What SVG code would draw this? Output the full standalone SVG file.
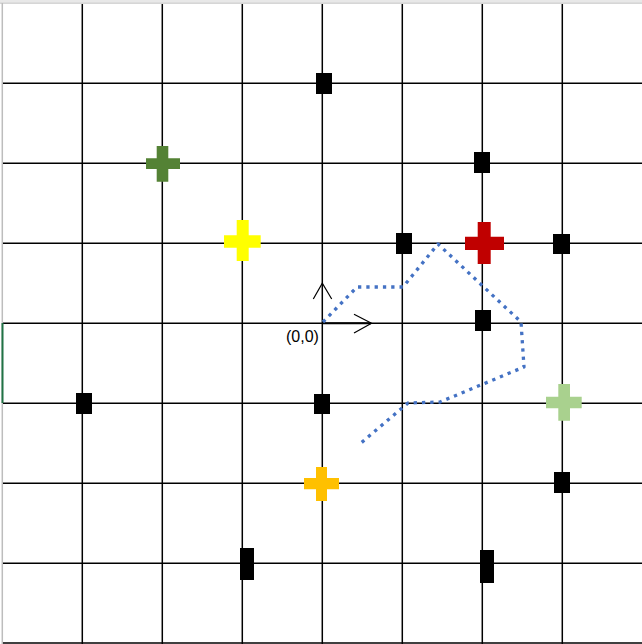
<svg xmlns="http://www.w3.org/2000/svg" width="642" height="644" viewBox="0 0 642 644">
<style>
.g{stroke:#000;stroke-width:1.5;fill:none}
.sq{fill:#000}
.ax{stroke:#000;stroke-width:1.2;fill:none}
.path{stroke:#4472C4;stroke-width:3.3;fill:none;stroke-dasharray:3.3 5;stroke-linejoin:round}
</style>
<rect width="642" height="644" fill="#fff"/>
<rect x="0" y="0" width="642" height="3" fill="#e8e8e8"/>
<line x1="0" y1="3.2" x2="642" y2="3.2" stroke="#c4c4c4" stroke-width="1"/>
<line x1="2.3" y1="3" x2="2.3" y2="644" stroke="#bdbdbd" stroke-width="1.5"/>
<g id="grid">
<line class="g" x1="82.3" y1="4" x2="82.3" y2="644"/>
<line class="g" x1="162.3" y1="4" x2="162.3" y2="644"/>
<line class="g" x1="242.3" y1="4" x2="242.3" y2="644"/>
<line class="g" x1="322.3" y1="4" x2="322.3" y2="644"/>
<line class="g" x1="402.3" y1="4" x2="402.3" y2="644"/>
<line class="g" x1="482.3" y1="4" x2="482.3" y2="644"/>
<line class="g" x1="562.3" y1="4" x2="562.3" y2="644"/>
<line class="g" x1="3" y1="83.3" x2="642" y2="83.3"/>
<line class="g" x1="3" y1="163.3" x2="642" y2="163.3"/>
<line class="g" x1="3" y1="243.3" x2="642" y2="243.3"/>
<line class="g" x1="3" y1="323.3" x2="642" y2="323.3"/>
<line class="g" x1="3" y1="403.3" x2="642" y2="403.3"/>
<line class="g" x1="3" y1="483.3" x2="642" y2="483.3"/>
<line class="g" x1="3" y1="563.3" x2="642" y2="563.3"/>
<line class="g" x1="3" y1="643" x2="642" y2="643"/>
</g>
<line x1="2.5" y1="323" x2="2.5" y2="403" stroke="#217346" stroke-width="2"/>
<g id="squares">
<rect id="s1" class="sq" x="316" y="73" width="16" height="21"/>
<rect id="s2" class="sq" x="474" y="152" width="16" height="21"/>
<rect id="s3" class="sq" x="396" y="233" width="16" height="21"/>
<rect id="s4" class="sq" x="553" y="234" width="17" height="20"/>
<rect id="s5" class="sq" x="475" y="310" width="16" height="21"/>
<rect id="s6" class="sq" x="76" y="393" width="16" height="21"/>
<rect id="s7" class="sq" x="314" y="394" width="16" height="20"/>
<rect id="s8" class="sq" x="554" y="472" width="16" height="21"/>
<rect id="s9" class="sq" x="240" y="548" width="14" height="32"/>
<rect id="s10" class="sq" x="480" y="550" width="14" height="33"/>
</g>
<g id="crosses">
<path id="c-green" fill="#548235" d="M156.7,146h11.6v12.3h11.7v10.7h-11.7v12.7h-11.6v-12.7h-10.7v-10.7h10.7z"/>
<path id="c-yellow" fill="#FFFF00" d="M236.7,220h12v15.3h12v12.4h-12v13.3h-12v-13.3h-12.7v-12.4h12.7z"/>
<path id="c-red" fill="#C00000" d="M477.7,222h13v14.7h13.3v13.3h-13.3v14h-13v-14h-12.7v-13.3h12.7z"/>
<path id="c-lightgreen" fill="#A9D18E" d="M558.3,384h11.7v12.7h11.7v11.6h-11.7v12.4h-11.7v-12.4h-12.3v-11.6h12.3z"/>
<path id="c-orange" fill="#FFC000" d="M316,467h11v11h12v11.3h-12v11.7h-11v-11.7h-12v-11.3h12z"/>
</g>
<g id="axes">
<line x1="322" y1="323.3" x2="371" y2="323.3" stroke="#000" stroke-width="2"/>
<polyline class="ax" points="354,314.3 371.5,323.3 354,333"/>
<polyline class="ax" points="313.3,299 322.3,283.3 331.7,299"/>
<text x="286" y="341.5" font-family="'Liberation Sans', Arial, sans-serif" font-size="16" fill="#000">(0,0)</text>
</g>
<g id="connectors">
<path class="path" d="M323,322 L357,287 L403,287 L438,244 L521,322 L524,367 L440,402 L408,403 L361,443"/>
</g>
</svg>
